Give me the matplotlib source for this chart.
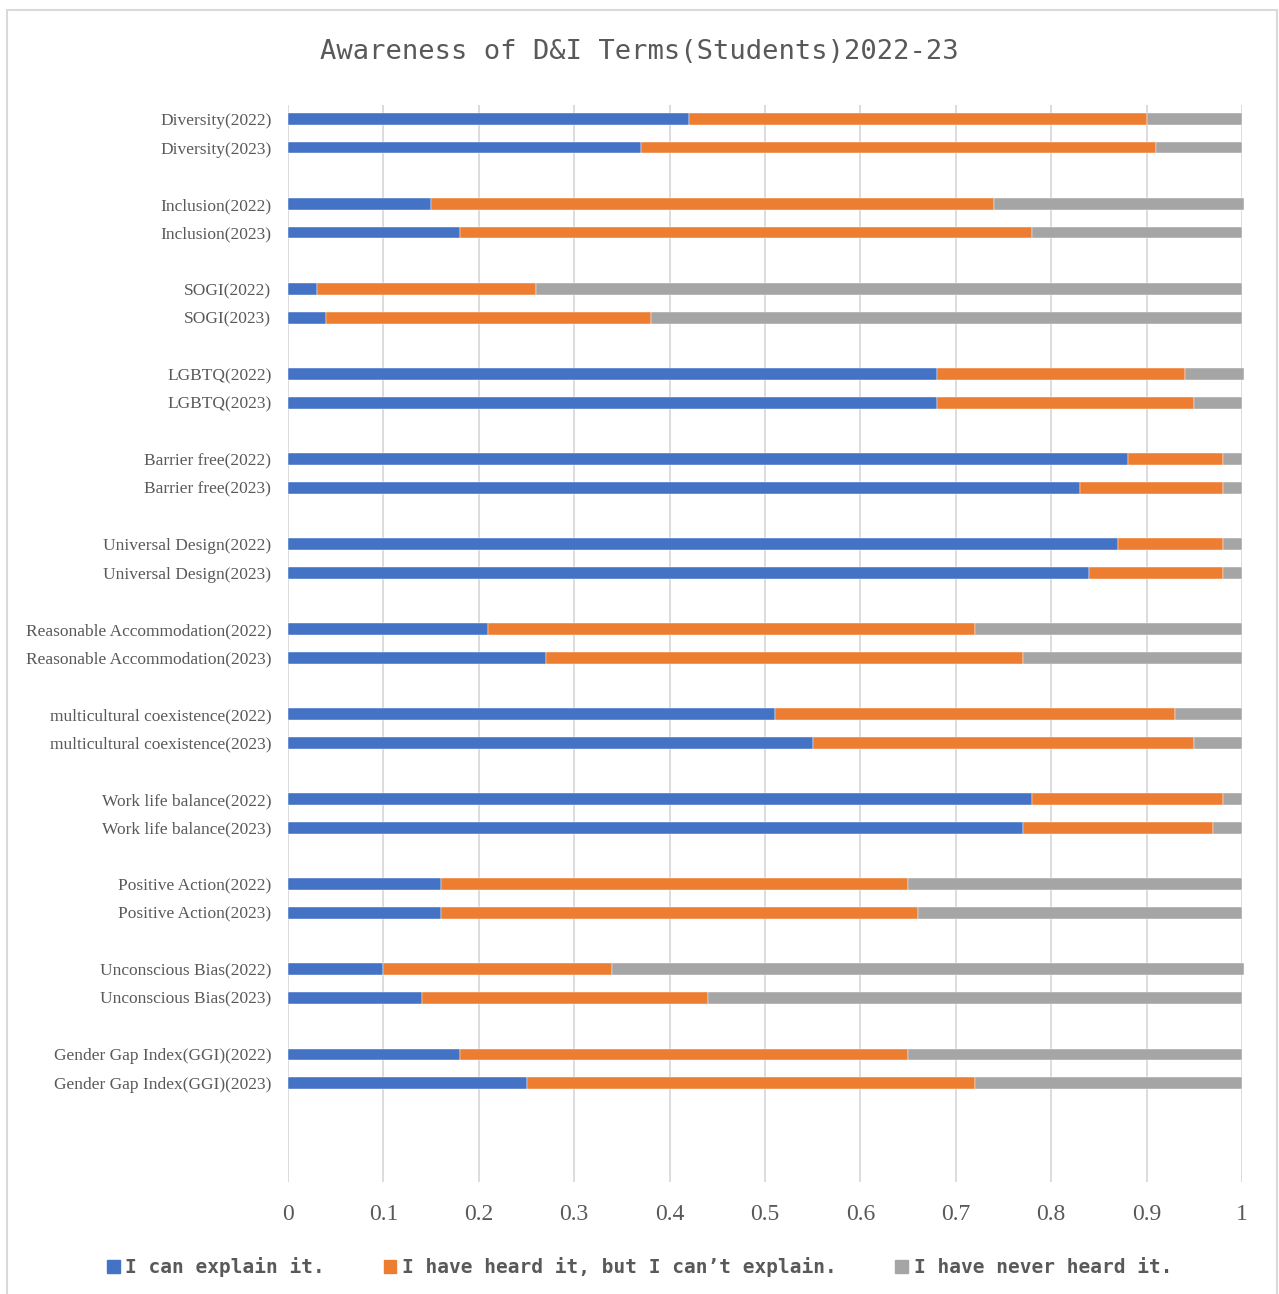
import numpy as np
import matplotlib.pyplot as plt
from matplotlib.patches import Rectangle

terms = ['Diversity', 'Inclusion', 'SOGI', 'LGBTQ', 'Barrier free',
         'Universal Design', 'Reasonable Accommodation',
         'multicultural coexistence', 'Work life balance',
         'Positive Action', 'Unconscious Bias', 'Gender Gap Index(GGI)']
years = ['2022', '2023']

# per term: [2022, 2023]
can_explain = [[0.42, 0.37], [0.15, 0.18], [0.03, 0.04], [0.68, 0.68],
               [0.88, 0.83], [0.87, 0.84], [0.21, 0.27], [0.51, 0.55],
               [0.78, 0.77], [0.16, 0.16], [0.10, 0.14], [0.18, 0.25]]
heard_only = [[0.48, 0.54], [0.59, 0.60], [0.23, 0.34], [0.26, 0.27],
              [0.10, 0.15], [0.11, 0.14], [0.51, 0.50], [0.42, 0.40],
              [0.20, 0.20], [0.49, 0.50], [0.24, 0.30], [0.47, 0.47]]
never_heard = [[0.10, 0.09], [0.262, 0.22], [0.74, 0.62], [0.062, 0.05],
               [0.02, 0.02], [0.02, 0.02], [0.28, 0.23], [0.07, 0.05],
               [0.02, 0.03], [0.35, 0.34], [0.662, 0.56], [0.35, 0.28]]

series_names = ['I can explain it.', "I have heard it, but I can\u2019t explain.",
                'I have never heard it.']
colors = ['#4472C4', '#ED7D31', '#A5A5A5']
TXT = '#595959'
GOTHIC = 'DejaVu Sans Mono'
MINCHO = 'Liberation Serif'

# build rows with a blank slot after each pair
labels, vals = [], []
for i, t in enumerate(terms):
    for j, y in enumerate(years):
        labels.append(f'{t}({y})')
        vals.append([can_explain[i][j], heard_only[i][j], never_heard[i][j]])
    labels.append(None)
    vals.append(None)
labels += [None, None]
vals += [None, None]
nslots = len(labels)

fig = plt.figure(figsize=(12.79, 12.94), dpi=100)
fig.patches.append(Rectangle((7/1279, -0.01), 1270/1279, 1 - 10/1294 + 0.01,
                             transform=fig.transFigure, fill=False,
                             edgecolor='#D9D9D9', linewidth=1.5))
ax = fig.add_axes([288/1279, 1 - 1182/1294, 954/1279, (1182 - 105)/1294])

ypos = np.arange(nslots)
for k, v in enumerate(vals):
    if v is None:
        continue
    left = 0
    for s in range(3):
        ax.barh(ypos[k], v[s], left=left, height=0.42, color=colors[s],
                edgecolor='white', linewidth=0.3, zorder=3, clip_on=False)
        left += v[s]

ax.set_ylim(nslots - 0.5, -0.5)
ax.set_xlim(0, 1)
ax.set_xticks(np.arange(0, 1.01, 0.1))
ax.set_xticklabels(['0'] + [f'{x:.1f}' for x in np.arange(0.1, 0.95, 0.1)] + ['1'],
                   family=MINCHO, fontsize=17, color=TXT)
ytk = [k for k, l in enumerate(labels) if l is not None]
ax.set_yticks(ytk)
ax.set_yticklabels([labels[k] for k in ytk], family=MINCHO, fontsize=12.5, color=TXT)
ax.tick_params(axis='both', length=0)
ax.tick_params(axis='x', pad=16)
ax.tick_params(axis='y', pad=12)
ax.grid(axis='x', color='#D9D9D9', linewidth=1.3, zorder=0)
for sp in ax.spines.values():
    sp.set_visible(False)

fig.text(0.5, 1 - 52/1294, 'Awareness of D&I Terms(Students)2022-23',
         ha='center', va='center', family=GOTHIC, fontsize=19.5, color=TXT)

handles = [Rectangle((0, 0), 1, 1, color=c) for c in colors]
leg = fig.legend(handles, series_names, loc='center', ncol=3,
                 bbox_to_anchor=(0.5, 1 - 1267/1294), frameon=False,
                 prop={'family': GOTHIC, 'size': 14, 'weight': 'bold'},
                 handlelength=0.65, handleheight=0.65, handletextpad=0.3,
                 columnspacing=3.0)
for t in leg.get_texts():
    t.set_color(TXT)

fig.savefig('out.png', dpi=100)
